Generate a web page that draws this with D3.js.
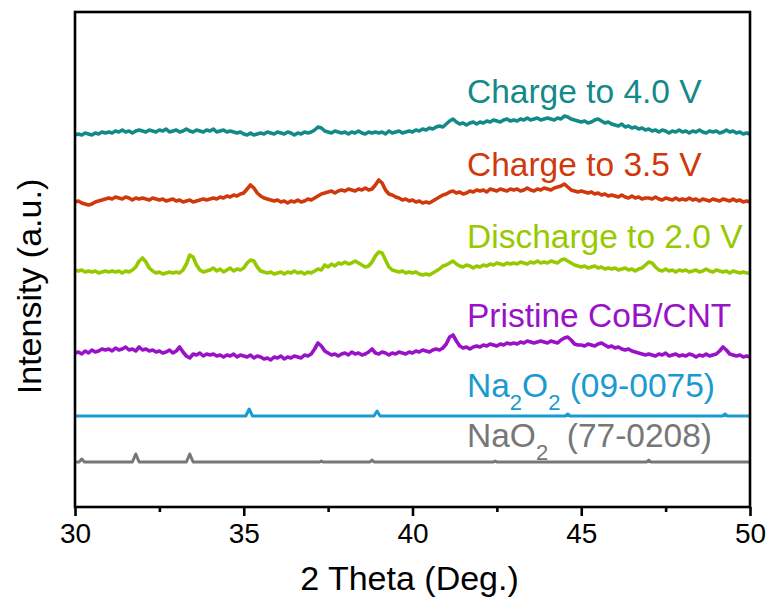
<!DOCTYPE html>
<html>
<head>
<meta charset="utf-8">
<script src="https://cdn.jsdelivr.net/npm/d3@7.9.0/dist/d3.min.js"></script>
<style>
  html, body { margin: 0; padding: 0; background: #fff; }
  svg { display: block; font-family: "Liberation Sans", Arial, sans-serif; }
  .label { font-size: 33.5px; }
</style>
</head>
<body>
<svg id="chart" width="770" height="609"></svg>
<script>
// scan grid of the measured patterns: 30.0 .. 50.0 deg, 0.1 deg step
const scanStart = 30;
const scanStep = 0.1;

// measured patterns, intensity (a.u.) above each pattern's own baseline
const charge40 = [
  0,1,0,2,1,0,2,1,3,2,  3,2,4,3,5,3,4,2,4,5,  4,3,5,4,3,5,4,6,3,4,  5,3,4,6,4,3,5,4,3,5,
  4,6,3,4,5,3,4,3,2,3,  1,0,2,0,1,2,1,3,2,1,  3,2,1,3,2,0,2,1,3,2,  3,5,8,7,4,3,2,4,3,2,
  3,1,3,2,4,2,1,3,2,3,  2,3,1,4,2,3,4,2,3,4,  3,5,4,6,5,7,6,8,9,8,  11,14,16,13,11,12,10,12,13,11,
  13,12,14,13,15,14,13,15,16,14,  15,14,16,15,17,15,16,17,15,16,  17,16,15,17,16,19,18,16,15,14,
  13,14,12,13,15,16,14,12,13,11,  10,9,11,8,9,7,8,6,7,5,  6,4,5,3,5,4,2,4,3,5,
  3,4,2,4,3,5,3,2,4,3,  4,2,3,5,3,4,2,3,1,2,  1
];
const charge35 = [
  1,2,0,-1,-2,-1,1,2,3,4,  5,4,6,5,4,6,5,3,5,4,  5,4,3,5,4,3,4,2,3,4,  2,3,1,2,3,1,2,3,4,3,
  4,5,4,6,5,7,6,8,7,9,  10,14,18,15,10,7,5,4,3,2,  3,1,2,0,2,1,3,1,2,4,  3,5,7,9,10,11,12,10,12,13,
  12,14,13,12,14,13,15,13,14,18,  23,20,13,9,8,6,5,3,4,2,  3,1,2,0,1,0,2,4,6,8,  9,11,12,10,11,9,10,12,11,13,
  12,13,11,14,13,12,14,13,12,14,  13,14,12,13,15,13,12,14,13,15,  14,13,15,16,17,19,16,13,12,11,
  12,11,10,11,9,10,8,9,7,8,  7,6,8,6,5,7,5,6,4,5,  5,4,6,4,3,5,4,3,5,3,
  4,3,5,3,4,2,4,3,2,4,  3,2,4,3,2,4,2,3,1,2,  1
];
const discharge20 = [
  4,3,4,2,3,2,3,1,2,3,  2,3,2,3,1,3,2,4,7,13,  16,12,6,3,1,2,0,1,2,1,  2,1,4,10,19,17,9,4,2,3,
  4,6,3,5,2,4,6,3,5,4,  6,11,14,13,7,3,2,1,2,0,  1,2,0,2,1,3,1,2,0,2,  1,3,5,4,9,7,10,8,11,10,
  12,10,11,13,11,9,7,8,12,18,  22,21,14,7,4,3,2,3,1,2,  1,2,0,-1,0,-1,1,3,5,8,  9,11,13,10,8,7,9,8,6,8,
  7,9,8,10,9,11,10,9,11,10,  11,10,12,11,10,12,11,13,11,12,  11,13,12,11,14,15,13,11,9,8,
  7,8,6,7,8,6,7,5,6,5,  6,4,5,6,4,5,3,5,6,9,  12,11,7,4,3,5,3,4,2,4,
  3,4,2,3,4,2,3,5,3,2,  4,3,2,3,1,3,2,1,2,1,  1
];
const pristine = [
  5,6,4,7,5,8,6,7,9,8,  9,7,10,8,9,11,8,9,7,11,  8,9,7,8,6,7,5,6,8,5,  7,11,6,2,0,4,3,5,2,4,
  3,4,2,3,1,3,2,4,1,3,  2,1,3,0,2,1,-1,0,-2,1,  0,2,-1,1,0,2,1,0,3,2,  4,9,15,12,7,5,3,4,2,4,
  5,3,6,4,5,3,4,6,9,5,  4,6,5,3,5,4,6,5,4,6,  5,7,6,8,7,6,8,9,8,10,  14,21,23,17,12,10,11,9,11,12,
  11,13,12,14,13,12,14,13,15,14,  15,14,16,15,17,16,15,16,17,16,  15,17,16,15,18,20,21,18,14,13,
  13,12,14,13,12,14,15,13,11,12,  10,11,9,8,9,7,6,5,4,3,  4,3,2,4,3,5,2,3,4,2,
  3,2,4,3,1,3,2,4,2,3,  4,7,11,8,4,3,2,3,1,2,  1
];

// reference cards (stick-like patterns)
const na2o2Theta = [30, 35.06, 35.16, 35.26, 38.86, 38.95, 39.04, 44.53, 44.6, 44.67, 49.19, 49.26, 49.33, 50];
const na2o2Int   = [0, 0, 7, 0, 0, 5, 0, 0, 2, 0, 0, 2, 0, 0];
const nao2Theta  = [30, 30.12, 30.2, 30.28, 31.7, 31.8, 31.9, 33.3, 33.4, 33.5, 37.25, 37.3, 37.35,
                    38.74, 38.8, 38.86, 42.4, 42.45, 42.5, 46.94, 47.0, 47.06, 50];
const nao2Int    = [0, 0, 3, 0, 0, 8, 0, 0, 8, 0, 0, 1, 0, 0, 2, 0, 0, 1, 0, 0, 2, 0, 0];

// vertical stacking offsets (a.u.)
const seriesNames = ["charge40", "charge35", "discharge20", "pristine", "na2o2", "nao2"];
const offsets = [372, 304, 233, 149, 91, 45];
const colors = ["#13898a", "#d0390d", "#97c900", "#9a12c8", "#1a9bd0", "#777777"];

const xTicks = [30, 35, 40, 45, 50];
const xMinorTicks = [32.5, 37.5, 42.5, 47.5];

const margin = { left: 75, right: 20, top: 12, bottom: 102 };
const width = 770, height = 609;

const svg = d3.select("#chart");

const x = d3.scaleLinear().domain([30, 50]).range([margin.left, width - margin.right]);
const y = d3.scaleLinear().domain([0, 495]).range([height - margin.bottom, margin.top]);

function scanPoints(values) {
  return values.map((v, i) => [scanStart + i * scanStep, v]);
}

const data = [
  scanPoints(charge40),
  scanPoints(charge35),
  scanPoints(discharge20),
  scanPoints(pristine),
  na2o2Theta.map((t, i) => [t, na2o2Int[i]]),
  nao2Theta.map((t, i) => [t, nao2Int[i]])
];

data.forEach((pts, k) => {
  const line = d3.line()
    .x(d => x(d[0]))
    .y(d => y(offsets[k] + d[1]));
  svg.append("path")
    .attr("class", "pattern " + seriesNames[k])
    .attr("d", line(pts))
    .attr("fill", "none")
    .attr("stroke", colors[k])
    .attr("stroke-width", k < 4 ? 3.6 : 3)
    .attr("stroke-linejoin", "round");
});

// frame
svg.append("rect")
  .attr("x", x(30)).attr("y", y(495))
  .attr("width", x(50) - x(30)).attr("height", y(0) - y(495))
  .attr("fill", "none").attr("stroke", "#000").attr("stroke-width", 2.6);

// bottom axis
const tickFont = "'Liberation Sans Narrow', 'Arial Narrow', 'Liberation Sans', sans-serif";
const xAxis = svg.append("g")
  .attr("transform", `translate(0,${y(0)})`)
  .call(d3.axisBottom(x).tickValues(xTicks).tickSize(9).tickPadding(7).tickFormat(d3.format("d")));
xAxis.select(".domain").remove();
xAxis.selectAll(".tick line").attr("stroke-width", 2.6);
xAxis.selectAll(".tick text")
  .attr("font-size", 28).attr("fill", "#000")
  .attr("font-family", tickFont);

const xMinor = svg.append("g")
  .attr("transform", `translate(0,${y(0)})`)
  .call(d3.axisBottom(x).tickValues(xMinorTicks).tickSize(5).tickFormat(""));
xMinor.select(".domain").remove();
xMinor.selectAll(".tick line").attr("stroke-width", 2.6);

// axis titles
svg.append("text")
  .attr("x", (x(30) + x(50)) / 2 - 3).attr("y", 590)
  .attr("text-anchor", "middle").attr("font-size", 34).attr("fill", "#000")
  .text("2 Theta (Deg.)");

svg.append("text")
  .attr("transform", `translate(41,${(y(0) + y(495)) / 2 + 27}) rotate(-90)`)
  .attr("text-anchor", "middle").attr("font-size", 34).attr("fill", "#000")
  .text("Intensity (a.u.)");

// pattern labels
const labelX = 467;
const labelBaselines = [103, 176, 248, 327, 397, 447];
const labelParts = [
  [["Charge to 4.0 V", 0]],
  [["Charge to 3.5 V", 0]],
  [["Discharge to 2.0 V", 0]],
  [["Pristine CoB/CNT", 0]],
  [["Na", 0], ["2", 1], ["O", 0], ["2", 1], [" (09-0075)", 0]],
  [["NaO", 0], ["2", 1], ["\u00a0\u00a0(77-0208)", 0]]
];

labelParts.forEach((parts, k) => {
  const t = svg.append("text")
    .attr("class", "label")
    .attr("x", labelX).attr("y", labelBaselines[k])
    .attr("fill", colors[k]);
  let sub = false;
  parts.forEach(([s, isSub]) => {
    const ts = t.append("tspan").text(s);
    if (isSub && !sub) { ts.attr("dy", 13).attr("font-size", 22); sub = true; }
    else if (!isSub && sub) { ts.attr("dy", -13); sub = false; }
    else if (isSub) { ts.attr("font-size", 22); }
  });
});
</script>
</body>
</html>
